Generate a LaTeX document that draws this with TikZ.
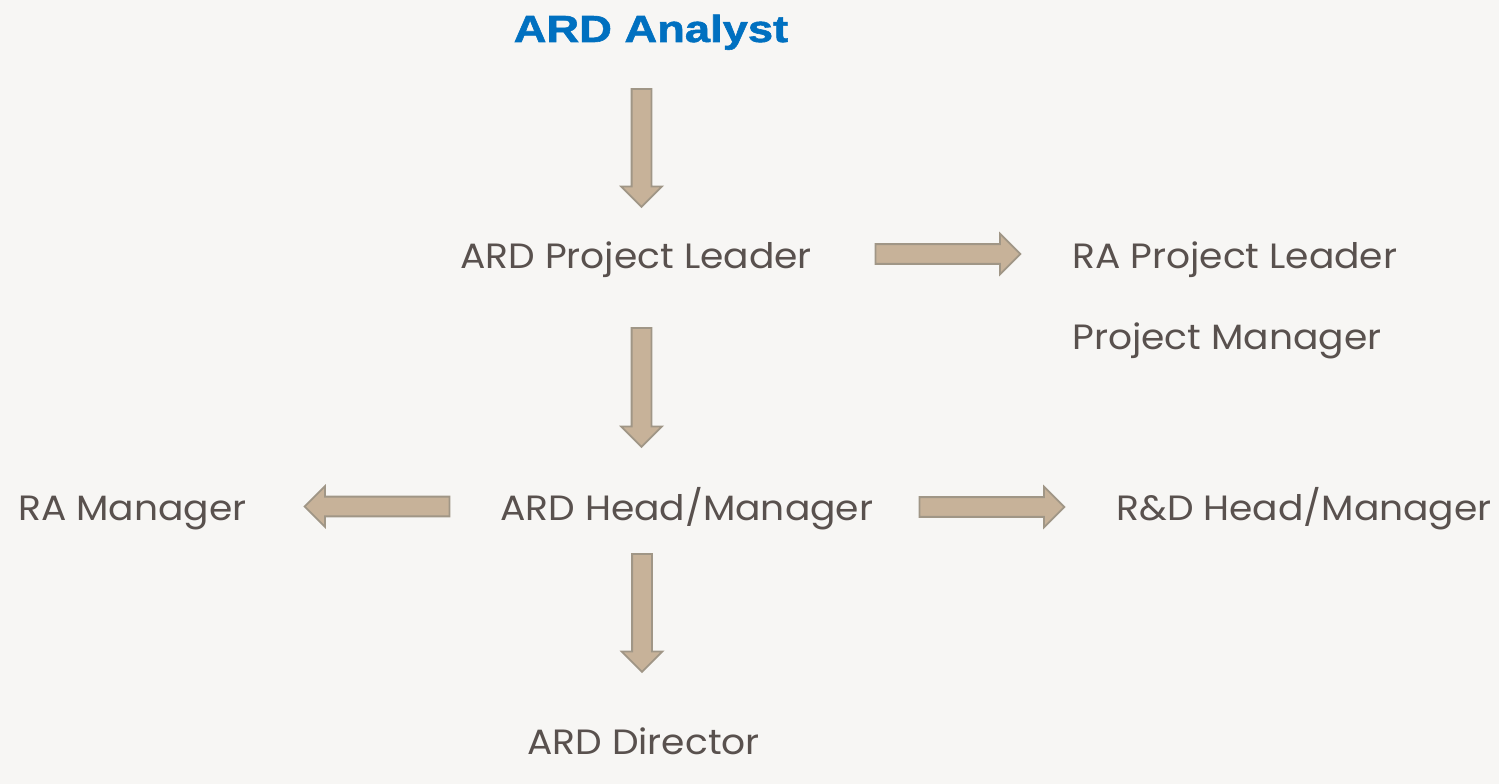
\documentclass[tikz,border=0pt]{standalone}
\usepackage{fontspec}
\usepackage{xcolor}
\usetikzlibrary{shapes.arrows}
\newfontfamily\gothic[FakeStretch=1.07]{Poppins}
\newfontfamily\heading[FakeStretch=1.2, FakeBold=1.5]{Liberation Sans}
\definecolor{bgcol}{RGB}{247,246,244}
\definecolor{titleblue}{RGB}{0,112,192}
\definecolor{textgray}{RGB}{89,81,78}
\definecolor{arrowfill}{RGB}{199,178,153}
\definecolor{arrowline}{RGB}{160,150,134}
\tikzset{
  role/.style={inner sep=0pt, anchor=base west, text=textgray, font=\gothic\fontsize{20}{24}\selectfont},
  flow/.style={single arrow, draw=arrowline, fill=arrowfill, line width=1pt, inner sep=0.18cm,
    single arrow head extend=0.21cm, single arrow tip angle=90, minimum height=2.9cm}
}
\begin{document}
\begin{tikzpicture}[x=0.02cm, y=-0.02cm]
    % Background
    \fill[bgcol] (0,0) rectangle (1499,784);
    \useasboundingbox (0,0) rectangle (1499,784);

    % Nodes
    \node (analyst) [inner sep=0pt, anchor=base, text=titleblue, font=\heading\bfseries\fontsize{21.5}{26}\selectfont] at (651,42) {ARD Analyst};
    \node (pleader) [role] at (460,268) {ARD Project Leader};
    \node (raleader) [role] at (1072,268) {RA Project Leader};
    \node (pmanager) [role] at (1072,349) {Project Manager};
    \node (ramanager) [role] at (18,520) {RA Manager};
    \node (head) [role] at (500,520) {ARD Head/Manager};
    \node (rdhead) [role] at (1116,520) {R\&D Head/Manager};
    \node (director) [role] at (527,754) {ARD Director};

    % Arrows
    \node (a1) [flow, shape border rotate=270, minimum height=2.36cm] at (641.5,143) {};
    \node (a2) [flow] at (943,254) {};
    \node (a3) [flow, shape border rotate=270, minimum height=2.38cm] at (641.5,382.5) {};
    \node (a4) [flow, shape border rotate=180] at (382,506.5) {};
    \node (a5) [flow] at (987,507) {};
    \node (a6) [flow, shape border rotate=270, minimum height=2.36cm] at (642,608) {};
\end{tikzpicture}
\end{document}
